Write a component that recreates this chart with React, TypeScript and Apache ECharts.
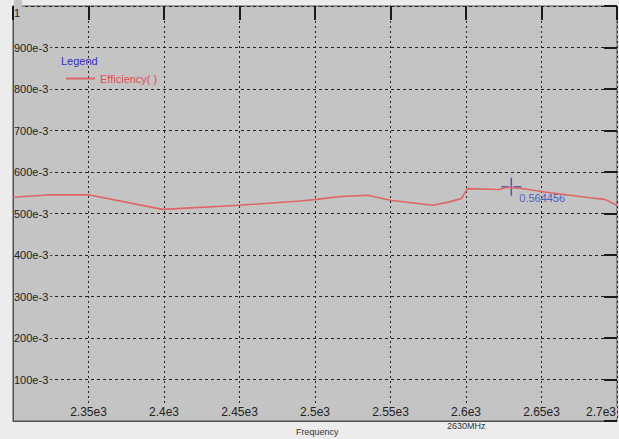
import { useEffect, useRef } from "react";
import * as echarts from "echarts";

const frequencies = [2300, 2325, 2350, 2399, 2450, 2490, 2501, 2517, 2535, 2550, 2578, 2589, 2595, 2597, 2601, 2622, 2627, 2636, 2652, 2682, 2692, 2700];
const efficiency = [0.539, 0.545, 0.545, 0.51, 0.52, 0.53, 0.534, 0.541, 0.544, 0.532, 0.52, 0.528, 0.534, 0.536, 0.56, 0.558, 0.563, 0.561, 0.552, 0.538, 0.534, 0.52];
const markerFrequency = 2630;
const markerValue = 0.564456;
const seriesName = "Efficiency( )";
const xAxisTitle = "Frequency";
const markerCaption = "2630MHz";

const PLOT_BG = "#c4c4c4";

export default function App() {
  const ref = useRef<HTMLDivElement>(null);
  useEffect(() => {
    if (!ref.current) return;
    const chart = echarts.init(ref.current, null, { renderer: "svg" });
    const lineData = frequencies.map((f, i) => [f, efficiency[i]]);
    const fontFamily = "Liberation Sans, Arial, sans-serif";
    chart.setOption({
      animation: false,
      backgroundColor: "#ececec",
      textStyle: { fontFamily },
      grid: {
        left: 13,
        right: 2,
        top: 6,
        bottom: 18,
        outerBoundsMode: "none",
        containLabel: false,
        show: true,
        backgroundColor: PLOT_BG,
        borderColor: "#505050",
        borderWidth: 1,
      },
      legend: {
        data: [seriesName],
        left: 61,
        top: 68,
        icon: "rect",
        itemWidth: 29,
        itemHeight: 2,
        itemGap: 2,
        textStyle: { color: "#e04c4c", fontSize: 11, fontFamily },
      },
      xAxis: [
        {
          type: "value",
          min: 2300,
          max: 2700,
          interval: 50,
          position: "bottom",
          axisLine: { show: true, onZero: false, lineStyle: { color: "#505050" } },
          axisTick: { show: false },
          axisLabel: {
            inside: true,
            margin: 3,
            showMinLabel: false,
            alignMaxLabel: "right",
            color: "#222",
            fontSize: 12,
            backgroundColor: PLOT_BG,
            padding: [0, 1],
            formatter: (v: number) => `${v / 1000}e3`,
          },
          splitLine: { show: true, lineStyle: { color: "#222", type: [2, 3], width: 1 } },
        },
        {
          type: "value",
          min: 2300,
          max: 2700,
          interval: 50,
          position: "top",
          axisLine: { show: false, onZero: false },
          axisTick: { show: true, inside: true, length: 14, lineStyle: { color: "#1a1a1a", width: 2 } },
          axisLabel: { show: false },
          splitLine: { show: false },
        },
      ],
      yAxis: [
        {
          type: "value",
          min: 0,
          max: 1,
          interval: 0.1,
          position: "left",
          axisLine: { show: true, onZero: false, lineStyle: { color: "#505050" } },
          axisTick: { show: false },
          axisLabel: {
            inside: true,
            margin: 1,
            color: "#222",
            fontSize: 11,
            backgroundColor: PLOT_BG,
            padding: [0, 2, 0, 0],
            formatter: (v: number) => {
              if (v > 0.999) return "{top|1}";
              if (v < 0.0001) return "";
              return `${Math.round(v * 1000)}e-3`;
            },
            rich: {
              top: { fontSize: 11, color: "#222", padding: [14, 0, 0, 0], fontFamily },
            },
          },
          splitLine: { show: true, lineStyle: { color: "#222", type: [3, 3], width: 1 } },
        },
        {
          type: "value",
          min: 0,
          max: 1,
          interval: 0.1,
          position: "right",
          axisLine: { show: false, onZero: false },
          axisTick: { show: true, inside: true, length: 13, lineStyle: { color: "#1a1a1a", width: 2 } },
          axisLabel: { show: false },
          splitLine: { show: false },
        },
      ],
      series: [
        {
          name: seriesName,
          type: "line",
          xAxisIndex: 0,
          yAxisIndex: 0,
          data: lineData,
          symbol: "none",
          lineStyle: { color: "#e06464", width: 1.6 },
          itemStyle: { color: "#e06464" },
        },
        {
          name: "marker",
          type: "scatter",
          xAxisIndex: 0,
          yAxisIndex: 0,
          data: [[markerFrequency, markerValue]],
          symbol: "path://M9.3,0h1.4v18h-1.4z M1,8.2h7v1.6h-7z M12,8.2h7v1.6h-7z",
          symbolSize: [20, 18],
          itemStyle: { color: "#34449c" },
          label: {
            show: true,
            position: [18, 15],
            align: "left",
            verticalAlign: "top",
            color: "#2f3fc0",
            fontSize: 11,
            fontFamily,
            formatter: () => `${markerValue}`,
          },
        },
      ],
      graphic: [
        {
          type: "text",
          left: 61,
          top: 55,
          style: { text: "Legend", fill: "#3030c8", fontSize: 11, fontFamily },
        },
        {
          type: "text",
          left: 296,
          top: 427,
          style: { text: xAxisTitle, fill: "#333", fontSize: 9, fontFamily },
        },
        {
          type: "text",
          left: 447,
          top: 421,
          style: { text: markerCaption, fill: "#333", fontSize: 9, fontFamily },
        },
      ],
    });
    return () => chart.dispose();
  }, []);
  return (
    <div
      ref={ref}
      style={{ position: "fixed", left: 0, top: 0, width: 619, height: 439 }}
    />
  );
}
